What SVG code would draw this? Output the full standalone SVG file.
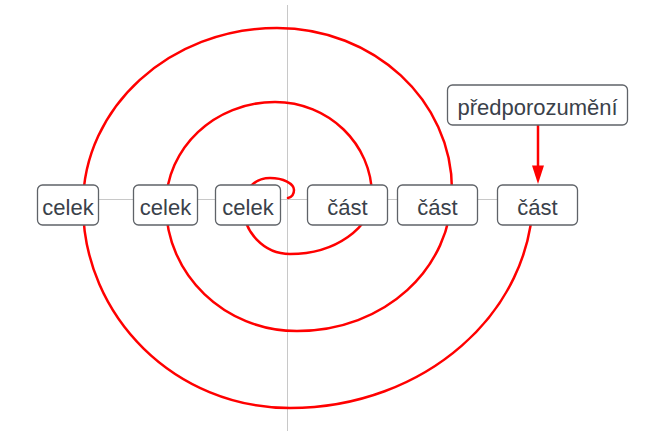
<svg xmlns="http://www.w3.org/2000/svg" width="659" height="445" viewBox="0 0 659 445">
<defs>
<style>
.axis{stroke:#c8c8c8;stroke-width:1;fill:none}
.spiral{stroke:#ff0000;stroke-width:2.5;fill:none;stroke-linecap:round}
.box{fill:#ffffff;stroke:#5f6368;stroke-width:1.3}
.lbl{font-family:"Liberation Sans",Arial,sans-serif;font-size:22px;fill:#3a414a;text-anchor:middle}
.conn{stroke:#ff0000;stroke-width:2.5;fill:none}
</style>
<marker id="ah" viewBox="0 0 12 18" refX="12" refY="6" markerWidth="12" markerHeight="18" markerUnits="userSpaceOnUse" orient="auto">
<path d="M0,0 L18,6 L0,12 Z" fill="#ff0000"/>
</marker>
</defs>
<rect width="659" height="445" fill="#ffffff"/>
<g id="axes">
<line class="axis" x1="287.5" y1="5" x2="287.5" y2="431"/>
<line class="axis" x1="40" y1="199.5" x2="576" y2="199.5"/>
</g>
<g id="spiral">
<path class="spiral" d="M288,198 C292,197 294,194 294,190 C294,183.4 283.3,178 270,178 C255,178 243,190 243,205 C243,232 264,254 290,254 C335,254 372,228 372,196 C372,144 328.6,102 275,102 C214.8,102 166,148 166,205 C166,274.6 224.6,331 297,331 C384.3,331 452,269 452,190 C452,100.5 373.7,28 277,28 C169.9,28 83,107.2 83,205 C83,317.1 175.7,408 290,408 C424.2,408 533,312.6 533,195"/>
</g>
<g id="connectors">
<line class="conn" x1="538" y1="125" x2="538" y2="166"/>
<path d="M532,165.5 L544,165.5 L538,184 Z" fill="#ff0000"/>
</g>
<g id="n-celek1">
<rect class="box" x="37.5" y="185" width="61" height="40" rx="5"/>
<text class="lbl" x="68" y="215">celek</text>
</g>
<g id="n-celek2">
<rect class="box" x="133.5" y="185" width="64" height="40" rx="5"/>
<text class="lbl" x="165.5" y="215">celek</text>
</g>
<g id="n-celek3">
<rect class="box" x="215.5" y="185" width="65" height="40" rx="5"/>
<text class="lbl" x="248" y="215">celek</text>
</g>
<g id="n-cast1">
<rect class="box" x="307.5" y="185" width="80" height="40" rx="5"/>
<text class="lbl" x="347.5" y="215">část</text>
</g>
<g id="n-cast2">
<rect class="box" x="397.5" y="185" width="80" height="40" rx="5"/>
<text class="lbl" x="437.5" y="215">část</text>
</g>
<g id="n-cast3">
<rect class="box" x="497.5" y="185" width="80" height="40" rx="5"/>
<text class="lbl" x="537.5" y="215">část</text>
</g>
<g id="n-predporozumeni">
<rect class="box" x="447.5" y="85" width="180" height="40" rx="5"/>
<text class="lbl" x="537.5" y="115">předporozumění</text>
</g>
</svg>
